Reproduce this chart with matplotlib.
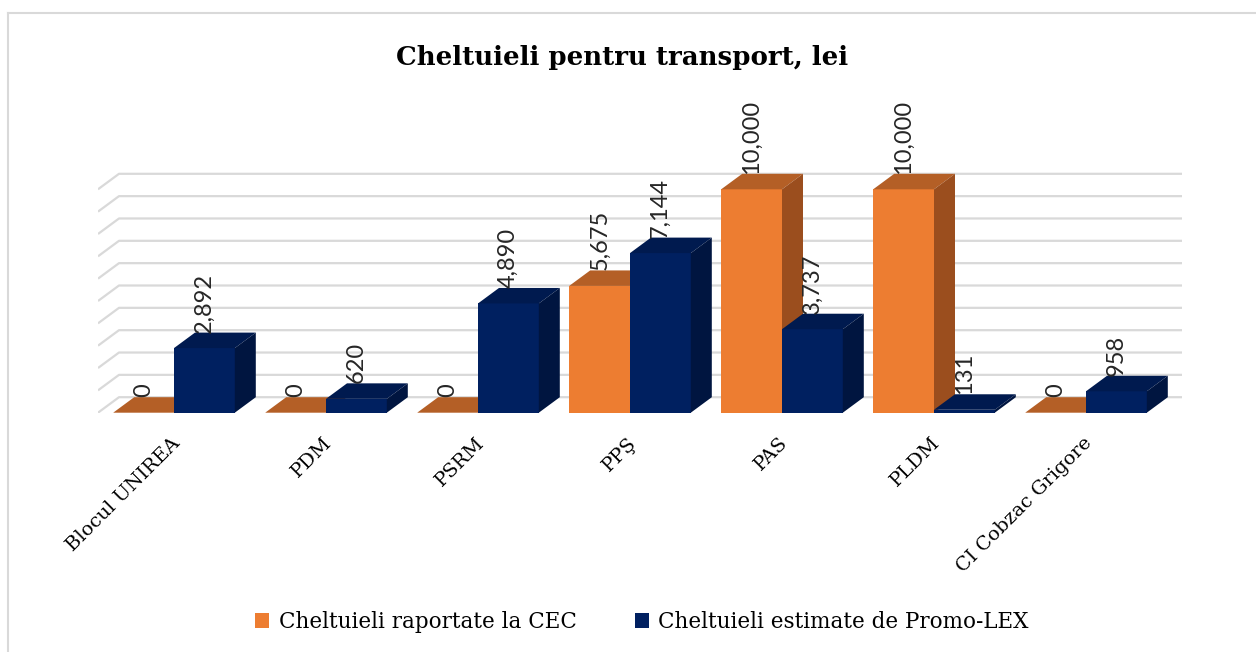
import numpy as np
import matplotlib.pyplot as plt
from matplotlib.patches import Polygon, Patch
from matplotlib.lines import Line2D

categories = ['Blocul UNIREA', 'PDM', 'PSRM', 'PPŞ', 'PAS', 'PLDM', 'CI Cobzac Grigore']
cec = [0, 0, 0, 5675, 10000, 10000, 0]
promolex = [2892, 620, 4890, 7144, 3737, 131, 958]
series_names = ['Cheltuieli raportate la CEC', 'Cheltuieli estimate de Promo-LEX']
grid_values = np.arange(0, 10001, 1000)
title = 'Cheltuieli pentru transport, lei'

# colours: front, top, side
orange = ('#ED7D31', '#B45F26', '#9B4E1E')
navy = ('#002060', '#001A4F', '#001540')

W, H = 1256, 652
fig = plt.figure(figsize=(W / 100, H / 100), dpi=100)

# plot area geometry (pixels)
x0_px, x1_px = 98, 1182
base_px = 412.7
px_per_cat = 152
px_per_val = 22.34 / 1000
ymax = 14000

ax = fig.add_axes([x0_px / W, (H - base_px) / H, (x1_px - x0_px) / W, ymax * px_per_val / H])
ax.set_xlim(-0.5, -0.5 + (x1_px - x0_px) / px_per_cat)
ax.set_ylim(0, ymax)
ax.axis('off')

# depth of the fake 3d in data units
dx = 21 / px_per_cat
dy = 15.5 / px_per_val
bw = 0.40

# back wall gridlines
n = len(categories)
for v in grid_values:
    ax.plot([-0.5, -0.5 + dx, n - 0.5 + dx], [v, v + dy, v + dy],
            color='#D9D9D9', lw=1.6, zorder=1, solid_capstyle='butt')

x = np.arange(n)
lab_font = ['Lato', 'DejaVu Sans']
serif = 'DejaVu Serif'


def bar3d(series, offset, cols, z0):
    bars = ax.bar(x + offset, series, bw, align='edge', color=cols[0], lw=0)
    for i, (p, h) in enumerate(zip(bars, series)):
        z = z0 + 2 * i
        p.set_zorder(z)
        xl = p.get_x()
        xr = xl + bw
        ax.add_patch(Polygon([(xl, h), (xl + dx, h + dy), (xr + dx, h + dy), (xr, h)],
                             closed=True, fc=cols[1], ec='none', zorder=z))
        ax.add_patch(Polygon([(xr, 0), (xr + dx, dy), (xr + dx, h + dy), (xr, h)],
                             closed=True, fc=cols[2], ec='none', zorder=z))
        ax.text(xl + bw / 2, h + dy, f'{h:,}', rotation=90, ha='center', va='bottom',
                fontsize=17, family=lab_font, color='#262626', zorder=100)


bar3d(cec, -bw, orange, 2)
bar3d(promolex, 0, navy, 3)

for i, c in enumerate(categories):
    ax.text(i - 0.02, -950, c, rotation=45, rotation_mode='anchor', ha='right', va='top',
            fontsize=14, family=serif, color='#000000')

fig.text(622 / W, 1 - 57 / H, title, ha='center', va='center', fontsize=18.7,
         weight='bold', family=serif)

handles = [Patch(fc=orange[0], ec='none'), Patch(fc=navy[0], ec='none')]
fig.legend(handles, series_names, loc='center', bbox_to_anchor=(642 / W, 30 / H), ncol=2,
           frameon=False, prop={'family': serif, 'size': 15.5},
           handlelength=0.65, handleheight=0.65, handletextpad=0.45, columnspacing=2.7)

# chart border (top and left visible)
fig.add_artist(Line2D([8 / W, 8 / W], [0, 1 - 13 / H], transform=fig.transFigure,
                      color='#D9D9D9', lw=1.5))
fig.add_artist(Line2D([8 / W, 1], [1 - 13 / H, 1 - 13 / H], transform=fig.transFigure,
                      color='#D9D9D9', lw=1.5))

fig.savefig('out.png', dpi=100)
